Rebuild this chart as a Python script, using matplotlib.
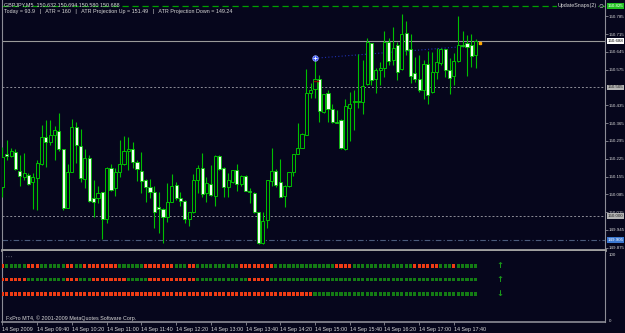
import numpy as np
import matplotlib.pyplot as plt
from matplotlib.transforms import blended_transform_factory

plt.rcParams['font.family'] = ['Liberation Sans', 'DejaVu Sans']

# GBPJPY M5, 14 Sep 2009, first bar 09:00
opens = [150.115, 150.243, 150.235, 150.252, 150.176, 150.152, 150.161, 150.132, 150.148, 150.203,
         150.309, 150.292, 150.318, 150.335, 150.265, 150.032, 150.174, 150.348, 150.275, 150.145,
         150.226, 150.069, 150.069, 150.093, 149.988, 150.189, 150.108, 150.174, 150.204, 150.256,
         150.264, 150.212, 150.178, 150.141, 150.113, 150.096, 150.035, 150.027, 149.994, 150.053,
         150.120, 150.072, 150.060, 149.986, 150.014, 150.141, 150.189, 150.092, 150.125, 150.079,
         150.235, 150.188, 150.115, 150.134, 150.180, 150.125, 150.158, 150.096, 150.092, 150.014,
         149.892, 149.984, 150.137, 150.176, 150.134, 150.079, 150.119, 150.174, 150.243, 150.269,
         150.320, 150.484, 150.501, 150.537, 150.407, 150.484, 150.420, 150.370, 150.379, 150.265,
         150.425, 150.446, 150.446, 150.446, 150.517, 150.678, 150.540, 150.573, 150.580, 150.682,
         150.613, 150.674, 150.576, 150.720, 150.658, 150.560, 150.540, 150.495, 150.597, 150.488,
         150.564, 150.602, 150.656, 150.573, 150.551, 150.609, 150.674, 150.678, 150.672, 150.632]
highs = [150.272, 150.298, 150.268, 150.265, 150.239, 150.246, 150.167, 150.167, 150.220, 150.357,
         150.379, 150.379, 150.355, 150.403, 150.265, 150.204, 150.381, 150.370, 150.340, 150.262,
         150.239, 150.141, 150.117, 150.095, 150.191, 150.204, 150.187, 150.298, 150.314, 150.311,
         150.290, 150.220, 150.252, 150.144, 150.144, 150.117, 150.095, 150.030, 150.128, 150.165,
         150.134, 150.093, 150.062, 150.017, 150.163, 150.200, 150.246, 150.154, 150.200, 150.239,
         150.239, 150.191, 150.170, 150.180, 150.204, 150.161, 150.161, 150.108, 150.095, 150.016,
         150.016, 150.143, 150.268, 150.184, 150.223, 150.121, 150.174, 150.243, 150.364, 150.327,
         150.577, 150.521, 150.613, 150.554, 150.481, 150.495, 150.440, 150.416, 150.381, 150.458,
         150.488, 150.497, 150.636, 150.613, 150.700, 150.681, 150.580, 150.606, 150.727, 150.698,
         150.741, 150.685, 150.794, 150.766, 150.715, 150.626, 150.632, 150.613, 150.649, 150.645,
         150.662, 150.662, 150.658, 150.619, 150.641, 150.786, 150.728, 150.711, 150.715, 150.694]
lows = [150.076, 150.220, 150.230, 150.180, 150.117, 150.141, 150.121, 150.026, 150.023, 150.200,
        150.191, 150.279, 150.220, 150.256, 150.023, 150.030, 150.174, 150.207, 150.134, 150.108,
        150.056, 149.997, 150.049, 149.909, 149.971, 150.099, 150.078, 150.154, 150.200, 150.180,
        150.187, 150.138, 150.091, 150.056, 150.069, 149.951, 149.931, 149.892, 149.977, 150.053,
        150.062, 150.039, 149.973, 149.962, 150.013, 150.089, 150.075, 150.056, 150.078, 150.040,
        150.180, 150.075, 150.073, 150.130, 150.098, 150.119, 150.098, 150.049, 150.010, 149.889,
        149.889, 149.951, 150.117, 150.115, 150.073, 150.036, 150.115, 150.157, 150.242, 150.268,
        150.318, 150.462, 150.464, 150.370, 150.403, 150.370, 150.364, 150.364, 150.265, 150.261,
        150.294, 150.337, 150.423, 150.400, 150.514, 150.514, 150.484, 150.515, 150.547, 150.593,
        150.593, 150.534, 150.573, 150.632, 150.521, 150.527, 150.488, 150.458, 150.442, 150.484,
        150.537, 150.593, 150.547, 150.481, 150.514, 150.606, 150.665, 150.550, 150.584, 150.580]
closes = [150.233, 150.235, 150.255, 150.183, 150.157, 150.167, 150.124, 150.152, 150.207, 150.311,
          150.289, 150.317, 150.338, 150.262, 150.032, 150.171, 150.351, 150.277, 150.148, 150.226,
          150.058, 150.056, 150.091, 149.988, 150.187, 150.102, 150.171, 150.204, 150.256, 150.262,
          150.213, 150.183, 150.138, 150.112, 150.095, 150.017, 150.026, 149.994, 150.056, 150.119,
          150.069, 150.060, 149.986, 150.014, 150.141, 150.187, 150.088, 150.128, 150.082, 150.235,
          150.184, 150.115, 150.141, 150.179, 150.125, 150.158, 150.099, 150.095, 150.016, 149.892,
          149.980, 150.141, 150.176, 150.121, 150.075, 150.119, 150.171, 150.242, 150.269, 150.324,
          150.485, 150.497, 150.538, 150.412, 150.478, 150.419, 150.368, 150.366, 150.268, 150.432,
          150.442, 150.451, 150.451, 150.512, 150.685, 150.534, 150.573, 150.580, 150.682, 150.609,
          150.662, 150.567, 150.715, 150.654, 150.550, 150.540, 150.495, 150.597, 150.475, 150.564,
          150.606, 150.658, 150.573, 150.543, 150.609, 150.672, 150.668, 150.665, 150.628, 150.688]

# horizontal lines on the price chart
bid_price = 150.688
upper_level = 150.505
lower_level = 150.000
low_level = 149.905
top_level = 150.825
price_ticks = [150.785, 150.715, 150.645, 150.575, 150.435, 150.365,
               150.295, 150.225, 150.155, 150.085, 150.015, 149.945, 149.875]

# trend line (bar index, price) and markers
trend_x = [72, 107]
trend_y = [150.620, 150.667]
marker_bar, marker_price = 72, 150.620
red_dash_bar, red_dash_price = 72.2, 150.532
bid_mark_bar = 110

# time axis
time_ticks = [0, 8, 16, 24, 32, 40, 48, 56, 64, 72, 80, 88, 96, 104]
time_labels = ['14 Sep 2009', '14 Sep 09:40', '14 Sep 10:20', '14 Sep 11:00', '14 Sep 11:40',
               '14 Sep 12:20', '14 Sep 13:00', '14 Sep 13:40', '14 Sep 14:20', '14 Sep 15:00',
               '14 Sep 15:40', '14 Sep 16:20', '14 Sep 17:00', '14 Sep 17:40']

# indicator rows (r = red, g = green), one square per bar
row1 = ("r" "ggggg" "rrr" "gggggg" "rr" "gg" "rrrrrrrr" "gggggg" "rrrrrrr" "ggg" "rr"
        "gggggggggg" "rrrrrrrr" "gggggggggggggg" "rrrr" "gggggggggggggg" "rrrrrr" "ggg" "r" "ggggg")
row2 = ("rrrrrr" "ggggggggg" "rrr" "ggg" "rrrrrrrr" "ggggg" "rrrrrrrrrrr" "gggggggggggg" "rrrrr"
        "gggggggggggg" "gggggggggggg" "gggggggggggg" "gggggggggggg")
row3 = ("rrrrrrrrrrrr" "rrrrrrrrrrrr" "rrrrrrrrrrrr" "rrrrrrrrrrrr" "rrrrrrrrrrrr" "rrrrrrrrrrrr"
        "gggggggggggg" "gggggggggggg" "gggggggggggg" "gg")
row_levels = [83, 62, 40]
row_arrows = ['↑', '↑', '↓']

bg = '#06061c'
green = '#00c000'
grey = '#8c8c96'
txt = '#d8d8d8'
fs = 3.9
fs_scale = 3.2

fig = plt.figure(figsize=(6.25, 3.33), dpi=100, facecolor=bg)
ax = fig.add_axes([2/625, 83/333, 603/625, 250/333], facecolor=bg)
ax2 = fig.add_axes([2/625, 11/333, 603/625, 71/333], facecolor=bg)

x = np.arange(len(opens))
o = np.array(opens); c = np.array(closes)
bull = c >= o

# wicks then bodies
ax.vlines(x, lows, highs, color=green, lw=0.8, zorder=3)
body_lo = np.minimum(o, c)
body_h = np.maximum(np.abs(c - o), 0.0015)
ax.bar(x[bull], body_h[bull], bottom=body_lo[bull], width=0.72, color=bg,
       edgecolor=green, linewidth=0.7, zorder=4)
ax.bar(x[~bull], body_h[~bull], bottom=body_lo[~bull], width=0.72, color='#f2fff2',
       edgecolor=green, linewidth=0.6, zorder=4)

# levels
ax.axhline(top_level, color='#00a000', lw=0.9, ls=(0, (5, 3)), zorder=2)
ax.axhline(bid_price, color='#9a9a9a', lw=0.8, zorder=2)
ax.axhline(upper_level, color=grey, lw=0.7, ls=(0, (2, 2)), zorder=2)
ax.axhline(lower_level, color=grey, lw=0.7, ls=(0, (2, 2)), zorder=2)
ax.axhline(low_level, color='#4a5a7a', lw=0.8, ls=(0, (5, 2, 1, 2)), zorder=2)
ax.plot(trend_x, trend_y, color='#2030b0', lw=0.8, ls=(0, (1, 2)), zorder=2)
ax.plot(marker_bar, marker_price, 'o', ms=4, mfc='#3050ff', mec='#a0b0ff', mew=0.5, zorder=6)
ax.plot(marker_bar, marker_price, '+', ms=2.5, color='white', mew=0.6, zorder=7)
ax.plot([red_dash_bar - 0.5, red_dash_bar + 0.5], [red_dash_price] * 2, color='#8b0000', lw=1.0, zorder=5)
ax.plot(bid_mark_bar, bid_price - 0.01, 's', ms=2, color='#ffa500', zorder=6)

ax.set_xlim(-0.1, 138.8)
ax.set_ylim(149.866, 150.849)
ax.set_xticks([])
ax.yaxis.tick_right()
ax.set_yticks(price_ticks)
ax.set_yticklabels(['%.3f' % v for v in price_ticks])
ax.tick_params(axis='y', colors=grey, labelcolor=txt, labelsize=fs_scale, length=2, width=0.6, pad=0.8)
ax.spines['top'].set_visible(False)
ax.spines['left'].set_color(grey)
ax.spines['right'].set_color(grey)
ax.spines['bottom'].set_color('#a0a0a0')
ax.spines['bottom'].set_linewidth(2)

# price boxes on the scale
tr = blended_transform_factory(ax.transAxes, ax.transData)
boxes = [(top_level, '#20c020', 'white'), (bid_price, 'white', 'black'),
         (upper_level, '#b4b4b4', '#202020'), (lower_level, '#b4b4b4', '#202020'),
         (low_level, '#3c78d0', 'white')]
for val, fc, tc in boxes:
    ax.text(1.004, val, '%.3f' % val, transform=tr, fontsize=fs_scale, color=tc, va='center', ha='left',
            bbox=dict(boxstyle='square,pad=0.15', fc=fc, ec='none'), zorder=10, clip_on=False)

# header text
fig.text(4/625, 1 - 5/333, 'GBPJPY,M5  150.632 150.694 150.580 150.688', fontsize=fs, color=txt, va='center')
fig.text(4/625, 1 - 12/333, 'Today = 93.9   |   ATR = 160   |   ATR Projection Up = 151.49   |   ATR Projection Down = 149.24',
         fontsize=fs, color=txt, va='center')
fig.text(597/625, 1 - 6/333, 'UpdateSnaps(2)', fontsize=fs, color=txt, va='center', ha='right',
         bbox=dict(boxstyle='square,pad=0.1', fc=bg, ec='none'))
fig.text(598/625, 1 - 6/333, '☺', fontsize=fs + 1, color=txt, va='center', ha='left')

# indicator panel
colmap = {'r': '#f03c14', 'g': '#147c14'}
for row, lev, arr in zip([row1, row2, row3], row_levels, row_arrows):
    cols = [colmap[ch] for ch in row]
    ax2.scatter(np.arange(len(row)), [lev] * len(row), marker='s', s=5, c=cols, linewidths=0, zorder=3)
    ax2.text(114.5, lev, arr, fontsize=6, color='#1a9a1a', ha='center', va='center',
             family='DejaVu Sans', fontweight='bold')
ax2.text(4/603, 1 - 7/71, "' ' '", transform=ax2.transAxes, fontsize=fs, color=grey, va='center')
ax2.text(4/603, 1 - 67/71, 'FxPro MT4, © 2001-2009 MetaQuotes Software Corp.', transform=ax2.transAxes,
         fontsize=fs, color=txt, va='center')
ax2.set_xlim(-0.1, 138.8)
ax2.set_ylim(-3, 106)
ax2.yaxis.tick_right()
ax2.set_yticks([0, 100])
ax2.set_yticklabels(['0', '100'])
ax2.tick_params(axis='y', colors=bg, labelcolor=txt, labelsize=fs_scale, length=0, pad=2.5)
ax2.set_xticks(time_ticks)
ax2.set_xticklabels(time_labels)
ax2.tick_params(axis='x', colors=grey, labelcolor=txt, labelsize=fs, length=2, width=0.6, pad=1.5)
plt.setp(ax2.get_xticklabels(), ha='left')
ax2.spines['top'].set_visible(False)
for s in ['left', 'right', 'bottom']:
    ax2.spines[s].set_color(grey)
ax2.spines['bottom'].set_linewidth(1.2)

fig.savefig('out.png', dpi=100, facecolor=bg)
